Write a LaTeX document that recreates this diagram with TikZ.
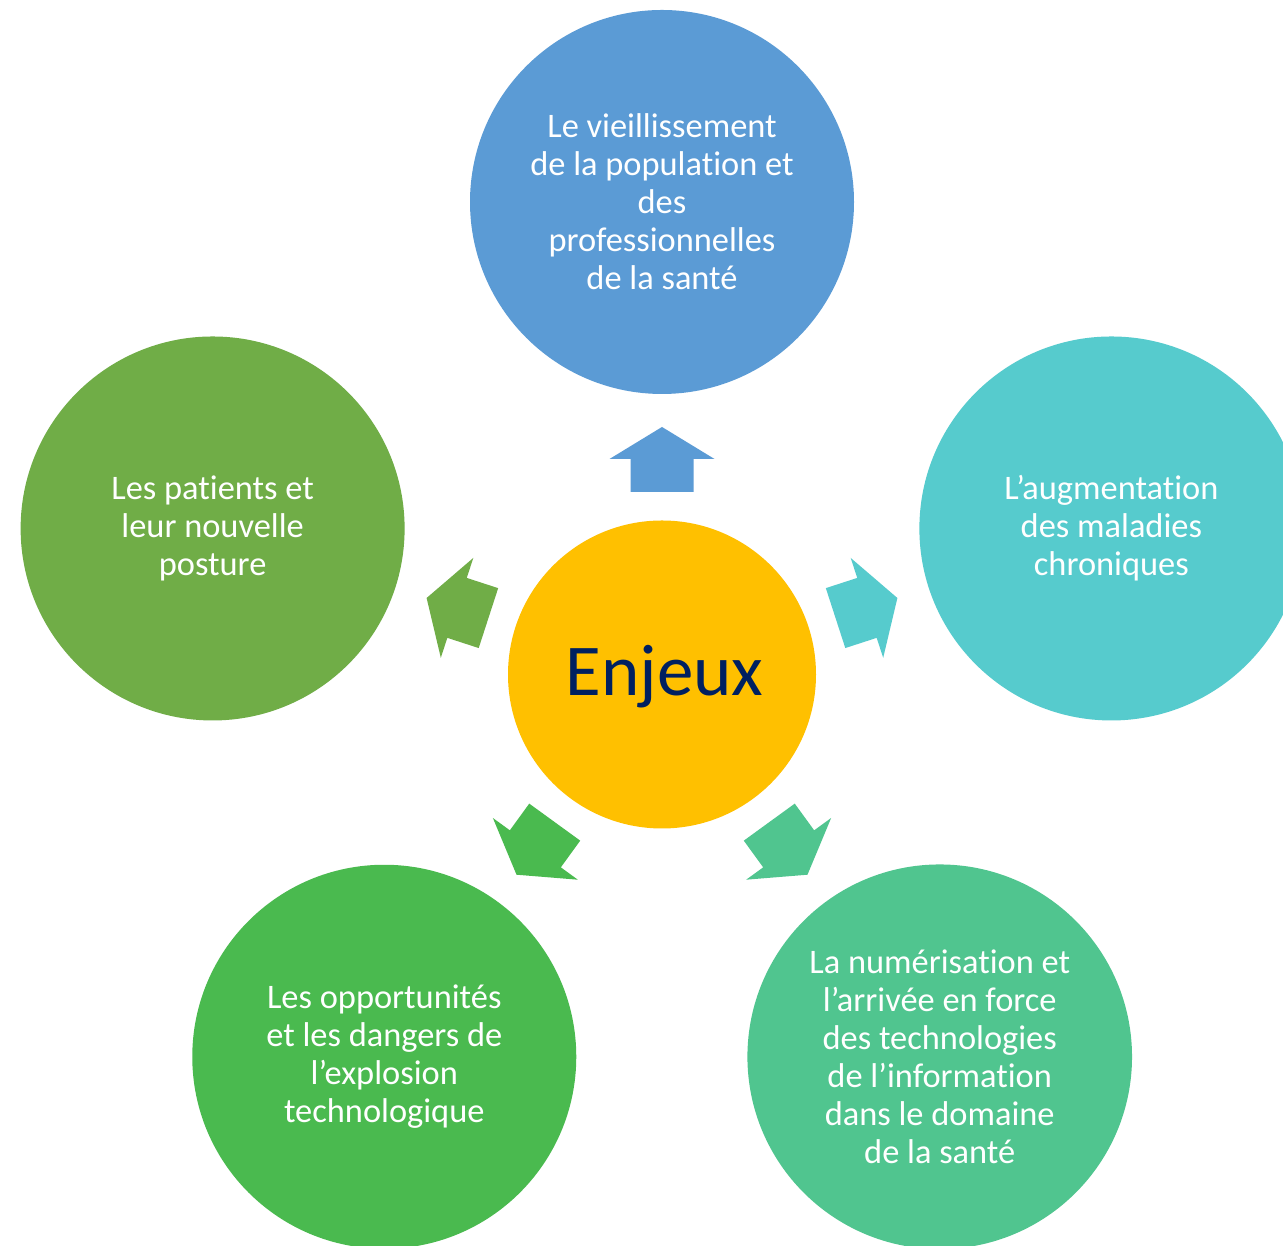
\documentclass[tikz,border=0pt]{standalone}
\usepackage{fontspec}
\setmainfont{Carlito}[Ligatures=NoCommon]
\usetikzlibrary{calc}
\definecolor{cBlue}{RGB}{91,155,213}
\definecolor{cTeal}{RGB}{86,203,205}
\definecolor{cLeaf}{RGB}{112,173,71}
\definecolor{cGreen}{RGB}{74,186,79}
\definecolor{cMint}{RGB}{80,197,143}
\definecolor{cGold}{RGB}{255,192,0}
\definecolor{cNavy}{RGB}{0,32,96}
\tikzset{
  outer/.style={circle, minimum size=384pt, inner sep=0pt, text=white,
    align=flush center, font=\fontsize{34.4}{38}\selectfont, text width=320pt},
  hub/.style={circle, minimum size=308pt, inner sep=0pt, fill=cGold},
}
\newcommand\enjarrow[2]{\fill[#2, shift={(C)}, rotate=#1]
  (182.5,-31.5) -- (215.5,-31.5) -- (215.5,-52.5) -- (247.5,0) --
  (215.5,52.5) -- (215.5,31.5) -- (182.5,31.5) -- cycle;}
\begin{document}
\begin{tikzpicture}[x=1pt,y=1pt]
\clip (0,0) rectangle (1283,1246);
\fill[white] (0,0) rectangle (1283,1246);
\coordinate (C) at (662,571.5);
\node[hub] (hub) at (C) {};
\node[anchor=base, text=cNavy, font=\fontsize{73}{80}\selectfont, inner sep=0pt] (enjeux) at (664.5,550.3) {Enjeux};
\node[outer, fill=cBlue] (top) at ($(C)+(90:472.5)$) {Le vieillissement\\de la population et\\des\\professionnelles\\de la santé};
\node[outer, fill=cTeal] (right) at ($(C)+(18:472.5)$) {L’augmentation\\des maladies\\chroniques};
\node[outer, fill=cMint] (bright) at ($(C)+(306:472.5)$) {La numérisation et\\l’arrivée en force\\des technologies\\de l’information\\dans le domaine\\de la santé};
\node[outer, fill=cGreen] (bleft) at ($(C)+(234:472.5)$) {Les opportunités\\et les dangers de\\l’explosion\\technologique};
\node[outer, fill=cLeaf] (left) at ($(C)+(162:472.5)$) {Les patients et\\leur nouvelle\\posture};
\enjarrow{90}{cBlue}
\enjarrow{18}{cTeal}
\enjarrow{306}{cMint}
\enjarrow{234}{cGreen}
\enjarrow{162}{cLeaf}
\end{tikzpicture}
\end{document}
